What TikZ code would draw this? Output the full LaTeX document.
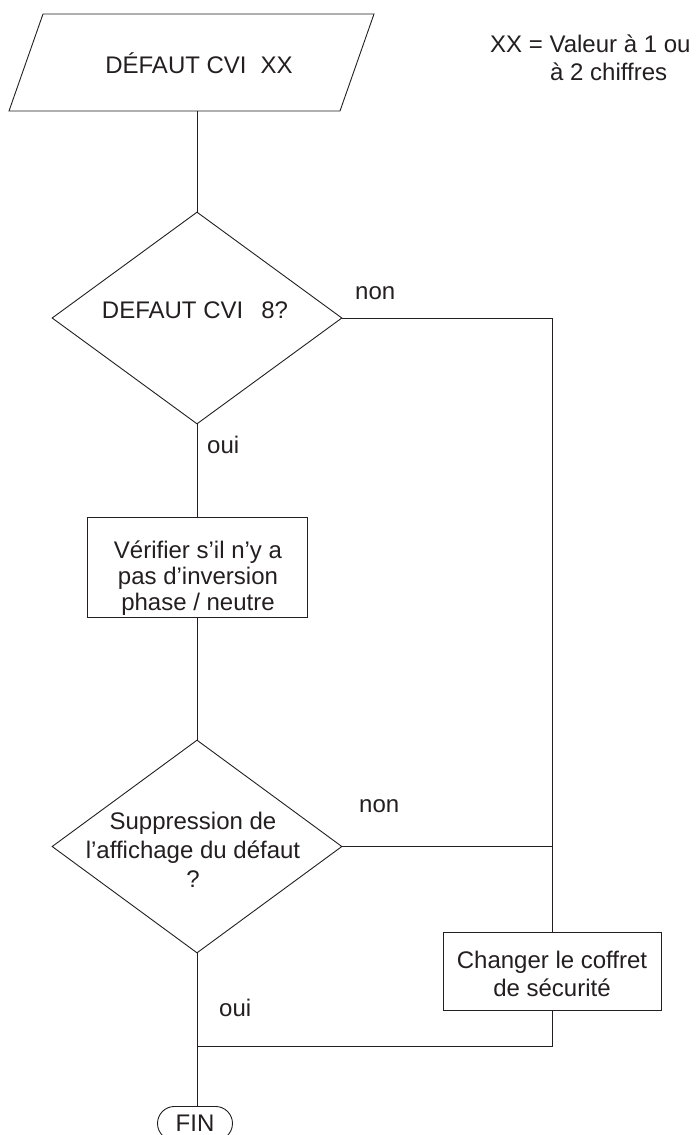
\documentclass[tikz,border=0pt]{standalone}
\usepackage{fontspec}
\setmainfont{Liberation Sans}
\usetikzlibrary{shapes.geometric}
\definecolor{ink}{HTML}{231F20}
\begin{document}
\begin{tikzpicture}[x=1pt,y=-1pt,
  every node/.style={font=\fontsize{24}{28}\selectfont, text=ink},
  conn/.style={draw=ink, line width=0.9pt},
  dec/.style={diamond, draw=ink, line width=0.9pt, minimum width=290pt, inner sep=0pt},
  proc/.style={rectangle, draw=ink, line width=0.9pt, inner sep=0pt},
  term/.style={rectangle, rounded corners=17pt, draw=ink, line width=0.9pt, inner sep=0pt, minimum width=75pt, minimum height=34pt},
  txt/.style={align=center, inner sep=0pt},
  lbl/.style={anchor=base west, inner sep=0pt}]
\useasboundingbox (0,0) rectangle (696,1135);
\clip (0,0) rectangle (696,1135);

% input/output parallelogram
\draw[conn] (43,14) -- (374,14) -- (340,111) -- (9,111) -- cycle;
\coordinate (ioB) at (197,111);
\node[txt, anchor=base] (ioT) at (199,73) {DÉFAUT CVI\hspace{14pt}XX};

% note
\node[lbl] (note1) at (490,52) {XX = Valeur à 1 ou};
\node[lbl] (note2) at (550,80) {à 2 chiffres};

% decision 1
\node[dec, minimum height=212pt] (d1) at (197,318) {};
\node[txt, anchor=base] (d1t) at (195,318) {DEFAUT CVI\hspace{18pt}8?};

% process 1
\node[proc, minimum width=220pt, minimum height=100pt] (b1) at (197,567) {};
\node[txt, font=\fontsize{24}{26}\selectfont] (b1t) at (198,578) {Vérifier s’il n’y a\\pas d’inversion\\phase / neutre};

% decision 2
\node[dec, minimum height=213pt] (d2) at (197,846.5) {};
\node[txt, font=\fontsize{24}{29}\selectfont] (d2t) at (193,850) {Suppression de\\l’affichage du défaut\\?};

% process 2
\node[proc, minimum width=218pt, minimum height=78pt] (b2) at (552,971) {};
\node[txt, font=\fontsize{24}{28}\selectfont] (b2t) at (552,974) {Changer le coffret\\de sécurité};

% terminator
\node[term, anchor=north] (fin) at (195,1106) {FIN};

% labels
\node[lbl] (non1) at (355,299) {non};
\node[lbl] (oui1) at (207,453) {oui};
\node[lbl] (non2) at (359,812) {non};
\node[lbl] (oui2) at (219,1016) {oui};

\coordinate (j) at (197,1046);

% connectors
\draw[conn] (ioB) -- (d1.north);
\draw[conn] (d1.south) -- (b1.north);
\draw[conn] (b1.south) -- (d2.north);
\draw[conn] (d2.south) -- (d2.south |- fin.north);
\draw[conn] (d1.east) -- (d1.east -| b2.north) -- (b2.north);
\draw[conn] (d2.east) -- (d2.east -| b2.north);
\draw[conn] (b2.south) |- (j);
\end{tikzpicture}
\end{document}
